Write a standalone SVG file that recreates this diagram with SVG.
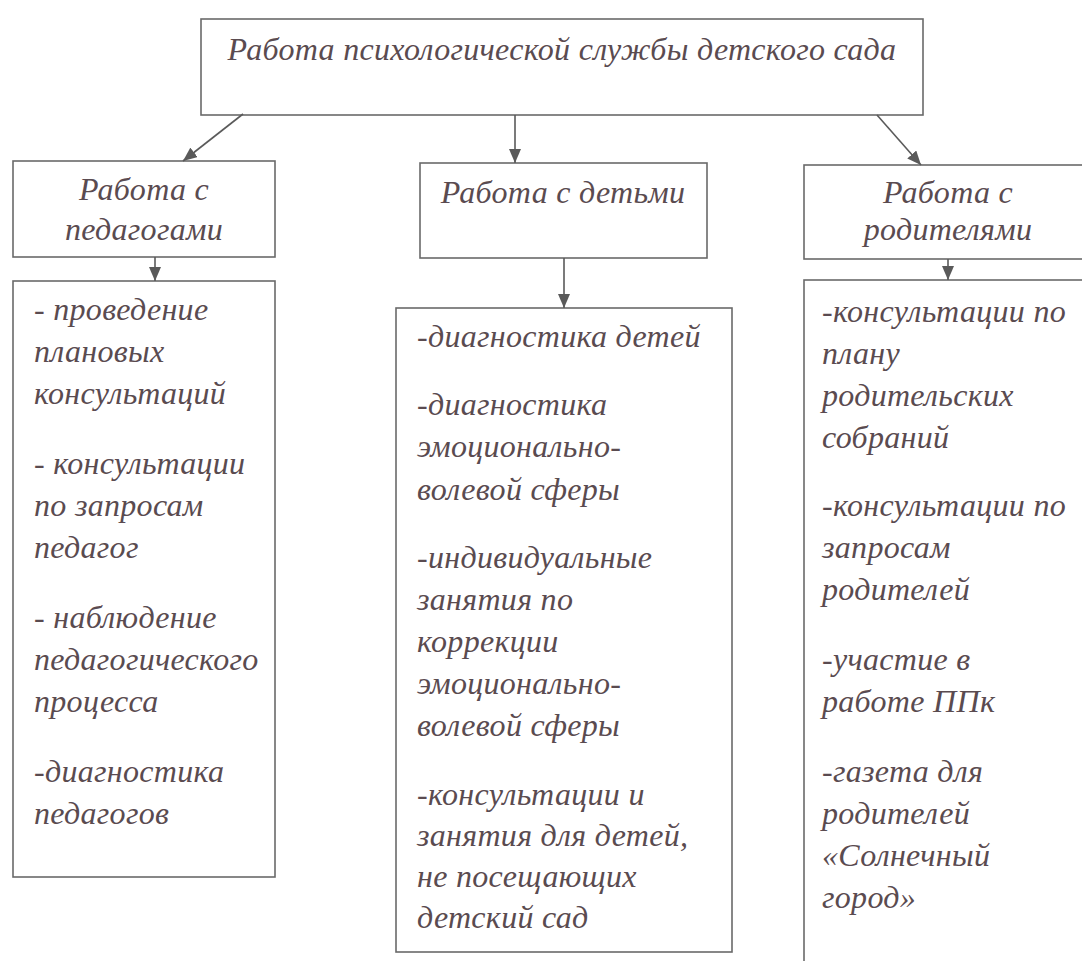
<svg xmlns="http://www.w3.org/2000/svg" width="1082" height="961" viewBox="0 0 1082 961">
<style>
.box{fill:#fff;stroke:#6a6a6a;stroke-width:1.6}
.t{font-family:"Liberation Serif","Times New Roman",serif;font-style:italic;font-size:32px;fill:#5a4b50;letter-spacing:0.3px}
.c{text-anchor:middle}
.conn line{stroke:#5a5a5a;stroke-width:1.6;marker-end:url(#ah)}
</style>
<defs>
<marker id="ah" markerUnits="userSpaceOnUse" markerWidth="14" markerHeight="12" viewBox="0 0 14 12" refX="14" refY="6" orient="auto">
<path d="M0,0 L14,6 L0,12 z" fill="#5a5a5a"/>
</marker>
</defs>
<rect width="1082" height="961" fill="#fff"/>
<g id="root">
<rect class="box" x="201" y="19" width="722" height="96"/>
<text class="t c" x="562" y="60">Работа психологической службы детского сада</text>
</g>
<g id="teachers">
<rect class="box" x="13" y="161" width="262" height="96"/>
<text class="t c" x="144" y="200">Работа с</text>
<text class="t c" x="144" y="240">педагогами</text>
</g>
<g id="children">
<rect class="box" x="420" y="163" width="287" height="95"/>
<text class="t c" x="563" y="203">Работа с детьми</text>
</g>
<g id="parents">
<rect class="box" x="804" y="165" width="290" height="94"/>
<text class="t c" x="948" y="203">Работа с</text>
<text class="t c" x="948" y="240">родителями</text>
</g>
<g id="teachers-list">
<rect class="box" x="13" y="281" width="262" height="596"/>
<text class="t" x="34" y="320">- проведение</text>
<text class="t" x="34" y="362">плановых</text>
<text class="t" x="34" y="404">консультаций</text>
<text class="t" x="34" y="474">- консультации</text>
<text class="t" x="34" y="516">по запросам</text>
<text class="t" x="34" y="558">педагог</text>
<text class="t" x="34" y="628">- наблюдение</text>
<text class="t" x="34" y="670">педагогического</text>
<text class="t" x="34" y="712">процесса</text>
<text class="t" x="34" y="782">-диагностика</text>
<text class="t" x="34" y="824">педагогов</text>
</g>
<g id="children-list">
<rect class="box" x="396" y="308" width="336" height="644"/>
<text class="t" x="417" y="347">-диагностика детей</text>
<text class="t" x="417" y="415">-диагностика</text>
<text class="t" x="417" y="457">эмоционально-</text>
<text class="t" x="417" y="500">волевой сферы</text>
<text class="t" x="417" y="568">-индивидуальные</text>
<text class="t" x="417" y="610">занятия по</text>
<text class="t" x="417" y="652">коррекции</text>
<text class="t" x="417" y="694">эмоционально-</text>
<text class="t" x="417" y="736">волевой сферы</text>
<text class="t" x="417" y="805">-консультации и</text>
<text class="t" x="417" y="846">занятия для детей,</text>
<text class="t" x="417" y="887">не посещающих</text>
<text class="t" x="417" y="928">детский сад</text>
</g>
<g id="parents-list">
<rect class="box" x="804" y="280" width="290" height="700"/>
<text class="t" x="822" y="322">-консультации по</text>
<text class="t" x="822" y="364">плану</text>
<text class="t" x="822" y="406">родительских</text>
<text class="t" x="822" y="448">собраний</text>
<text class="t" x="822" y="516">-консультации по</text>
<text class="t" x="822" y="558">запросам</text>
<text class="t" x="822" y="600">родителей</text>
<text class="t" x="822" y="670">-участие в</text>
<text class="t" x="822" y="712">работе ППк</text>
<text class="t" x="822" y="782">-газета для</text>
<text class="t" x="822" y="824">родителей</text>
<text class="t" x="822" y="866">«Солнечный</text>
<text class="t" x="822" y="908">город»</text>
</g>
<g id="connectors" class="conn">
<line x1="243" y1="114" x2="183" y2="161"/>
<line x1="515" y1="115" x2="515" y2="163"/>
<line x1="877" y1="115" x2="921" y2="165"/>
<line x1="155" y1="257" x2="155" y2="281"/>
<line x1="564" y1="258" x2="564" y2="308"/>
<line x1="948" y1="259" x2="948" y2="280"/>
</g>
</svg>
